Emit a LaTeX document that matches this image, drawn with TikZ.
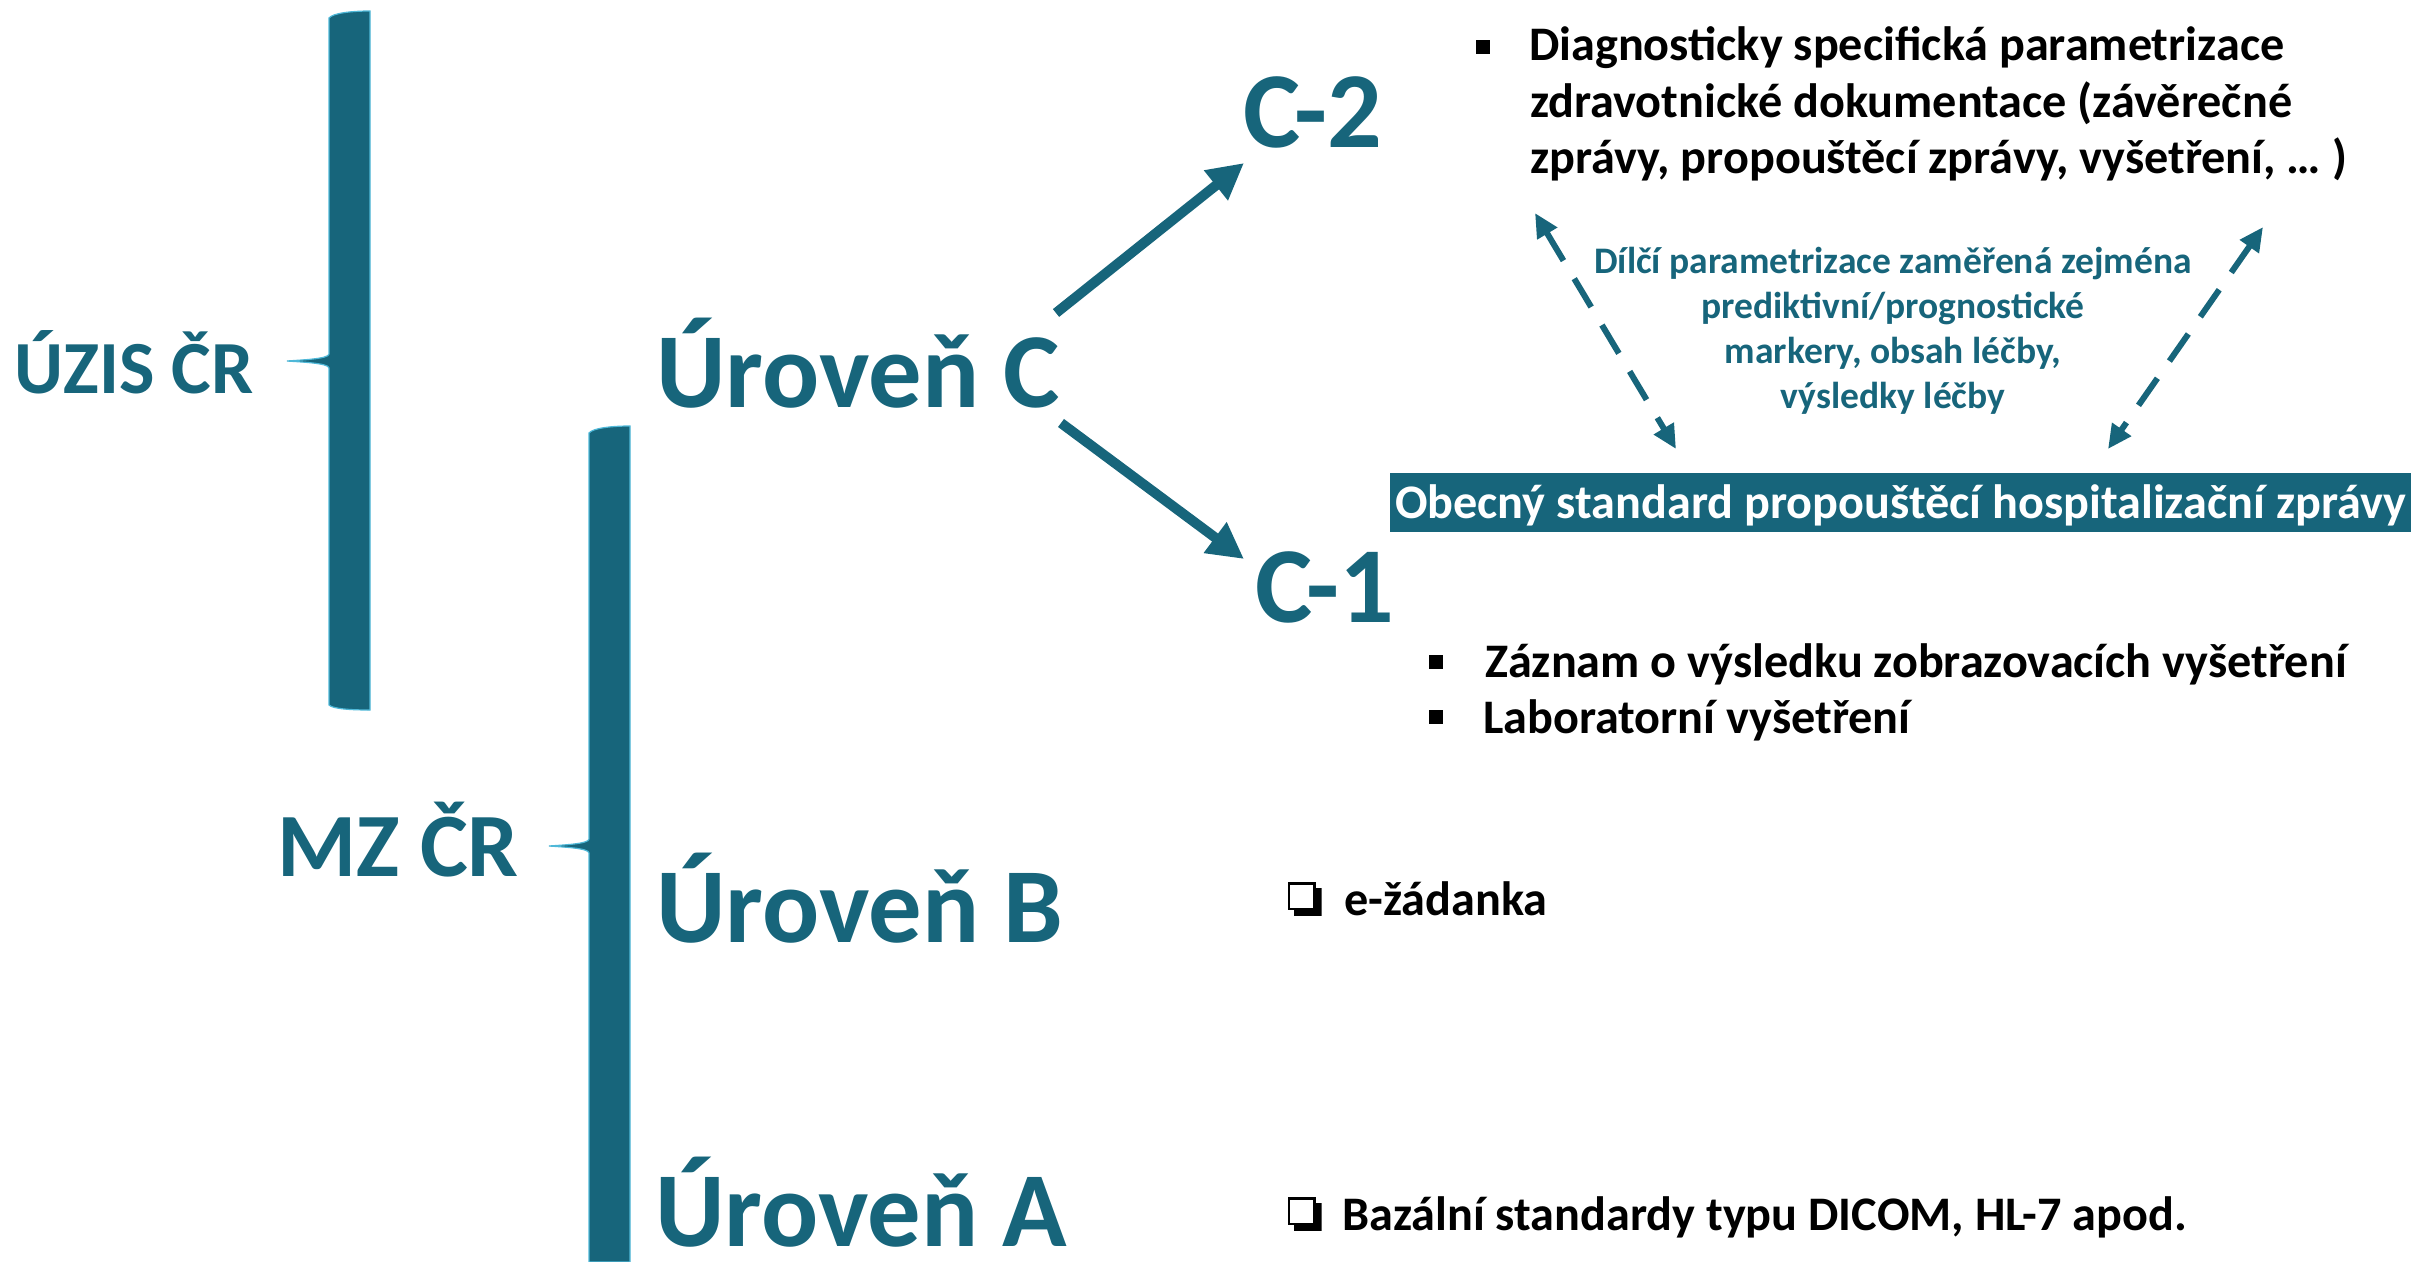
\documentclass[tikz,border=0pt]{standalone}
\usepackage{fontspec}
\setmainfont{Carlito}
\usetikzlibrary{arrows.meta,calc}
\definecolor{teal1}{HTML}{17657B}
\definecolor{edgeblue}{HTML}{4FB8D8}
\begin{document}
\begin{tikzpicture}[x=1pt,y=-1pt,
  lvl/.style={font=\bfseries\fontsize{106.5pt}{128pt}\selectfont, text=teal1, inner sep=0pt, anchor=base west},
  blk/.style={font=\bfseries\fontsize{48.2pt}{58pt}\selectfont, text=black, inner sep=0pt, anchor=base west},
  sub/.style={font=\bfseries\fontsize{37.5pt}{45pt}\selectfont, text=teal1, inner sep=0pt, anchor=base},
  sqbullet/.style={fill=black, draw=none, inner sep=0pt, minimum size=14pt},
  chk/.style={inner sep=0pt, minimum width=34pt, minimum height=34pt,
    path picture={
      \fill[black] ($(path picture bounding box.north west)+(6,6)$) rectangle (path picture bounding box.south east);
      \filldraw[fill=white, draw=black, line width=2.5pt] ($(path picture bounding box.north west)+(1.5,1.5)$) rectangle ($(path picture bounding box.south east)+(-7,-7)$);
    }},
  bar/.style={fill=teal1, draw=edgeblue, line width=1.2pt},
  bigarrow/.style={draw=teal1, line width=10pt, -{Triangle[length=36pt,width=36pt]}},
  dasharrow/.style={draw=teal1, line width=6pt, dash pattern=on 33pt off 21pt,
    {Triangle[length=24pt,width=22pt]}-{Triangle[length=24pt,width=22pt]}}
]
\useasboundingbox (0,0) rectangle (2433,1261);

% braces / bars
\path[bar] (370,11) -- (370,710) .. controls (352,710) and (333,709) .. (329,705)
  -- (329,368) .. controls (329,363) and (300,362) .. (287,361)
  .. controls (300,360) and (329,359) .. (329,354)
  -- (329,18) .. controls (333,13) and (352,11) .. (370,11) -- cycle;
\path[bar] (630,426) -- (630,1262) -- (589,1262) -- (589,853)
  .. controls (589,848) and (562,847) .. (549,846)
  .. controls (562,845) and (589,844) .. (589,839)
  -- (589,433) .. controls (593,428) and (612,426) .. (630,426) -- cycle;

% organisations
\node[lvl, font=\bfseries\fontsize{75pt}{90pt}\selectfont] (uzis) at (14,393) {ÚZIS ČR};
\node[lvl, font=\bfseries\fontsize{90.5pt}{108pt}\selectfont] (mz) at (277,876) {MZ ČR};

% levels
\node[lvl] (urovC) at (656,407) {Úroveň C};
\node[lvl] (urovB) at (656,942) {Úroveň B};
\node[lvl] (urovA) at (655,1246) {Úroveň A};
\node[lvl, font=\bfseries\fontsize{108pt}{130pt}\selectfont] (c2) at (1243,147) {C-2};
\node[lvl, font=\bfseries\fontsize{108pt}{130pt}\selectfont] (c1) at (1255,622) {C-1};

% solid arrows
\coordinate (a1s) at (1056,313);
\coordinate (a1e) at (1244,163);
\coordinate (a2s) at (1061,423);
\coordinate (a2e) at (1244,559);
\draw[bigarrow] (a1s) -- (a1e);
\draw[bigarrow] (a2s) -- (a2e);

% C-2 description
\node[sqbullet] (b1) at (1483,47) {};
\node[blk] (d1) at (1529,60) {Diagnosticky specifická parametrizace};
\node[blk] (d2) at (1530,117) {zdravotnické dokumentace (závěrečné};
\node[blk] (d3) at (1530,173) {zprávy, propouštěcí zprávy, vyšetření, … )};

% partial parametrization text
\node[sub] (s1) at (1893,273) {Dílčí parametrizace zaměřená zejména};
\node[sub] (s2) at (1893,318) {prediktivní/prognostické};
\node[sub] (s3) at (1893,363) {markery, obsah léčby,};
\node[sub] (s4) at (1893,408) {výsledky léčby};

% dashed double arrows
\coordinate (d1a) at (1535,213);
\coordinate (d1b) at (1676,449);
\coordinate (d2a) at (2263,227);
\coordinate (d2b) at (2108,449);
\draw[dasharrow] (d1a) -- (d1b);
\draw[dasharrow] (d2a) -- (d2b);

% general standard box
\node[fill=teal1, text=white, font=\bfseries\fontsize{48.2pt}{58pt}\selectfont,
  inner xsep=0pt, inner ysep=0pt, minimum width=1021pt, text height=45pt, text depth=14pt,
  anchor=base] (obec) at (1900.5,518) {Obecný standard propouštěcí hospitalizační zprávy};

% C-1 items
\node[sqbullet] (b2) at (1436,662) {};
\node[blk] (z1) at (1485,677) {Záznam o výsledku zobrazovacích vyšetření};
\node[sqbullet] (b3) at (1436,717) {};
\node[blk] (z2) at (1483,733) {Laboratorní vyšetření};

% level B and A items
\node[chk] (chk1) at (1304.5,899) {};
\node[blk] (eb) at (1344,915) {e-žádanka};
\node[chk] (chk2) at (1304.5,1214) {};
\node[blk] (ea) at (1342,1230) {Bazální standardy typu DICOM, HL-7 apod.};
\end{tikzpicture}
\end{document}
